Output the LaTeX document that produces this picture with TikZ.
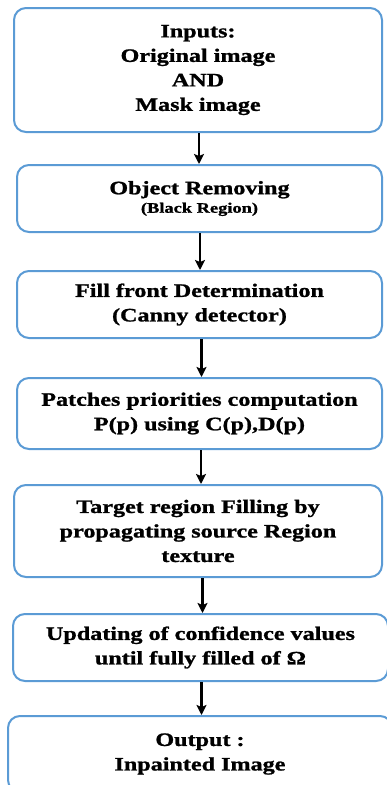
\documentclass[tikz,border=0pt]{standalone}
\usepackage{fontspec}
\setmainfont[FakeStretch=1.27, BoldFeatures={FakeBold=1.2}]{Liberation Serif}
\usepackage{xcolor}
\usetikzlibrary{
    arrows,
    arrows.meta,
    shapes,
    positioning,
    calc
}
\definecolor{boxblue}{RGB}{91,155,213}

\begin{document}
\begin{tikzpicture}[x=1pt, y=-1pt, >={Stealth[length=10pt,width=10pt,inset=2pt]},
    step-node/.style={rectangle, draw=boxblue, line width=2pt, rounded corners=12pt,
        align=center, inner sep=0pt, font=\fontsize{19}{24.5}\selectfont\bfseries},
    flow-arrow/.style={->, line width=2.5pt, black}]
    \useasboundingbox (0,0) rectangle (386,785);
    \node[step-node, minimum width=368pt, minimum height=124pt] (inputs) at (198,70) {Inputs:\\Original image\\AND\\Mask image};
    \node[step-node, minimum width=365pt, minimum height=67pt] (removing) at (199.5,198.5) {Object Removing\\[-6pt]{\fontsize{14.5}{16}\selectfont (Black Region)}};
    \node[step-node, minimum width=365pt, minimum height=67pt] (front) at (199.5,304.5) {Fill front Determination\\(Canny detector)};
    \node[step-node, minimum width=365pt, minimum height=71pt] (priorities) at (199.5,413.5) {Patches priorities computation\\P(p) using C(p),D(p)};
    \node[step-node, minimum width=368pt, minimum height=92pt] (filling) at (198,531) {Target region Filling by\\propagating source Region\\texture};
    \node[step-node, minimum width=375pt, minimum height=67pt] (updating) at (200.5,647.5) {Updating of confidence values\\until fully filled of Ω};
    \node[step-node, minimum width=384pt, minimum height=76pt] (output) at (200,754) {Output :\\Inpainted Image};
    \draw [flow-arrow] (inputs.south -| 199,0) -- (removing.north -| 199,0);
    \draw [flow-arrow] (removing.south -| 200,0) -- (front.north -| 200,0);
    \draw [flow-arrow] (front.south -| 201.5,0) -- (priorities.north -| 201.5,0);
    \draw [flow-arrow] (priorities.south -| 201,0) -- (filling.north -| 201,0);
    \draw [flow-arrow] (filling.south -| 202.5,0) -- (updating.north -| 202.5,0);
    \draw [flow-arrow] (updating.south -| 201.5,0) -- (output.north -| 201.5,0);
\end{tikzpicture}
\end{document}
